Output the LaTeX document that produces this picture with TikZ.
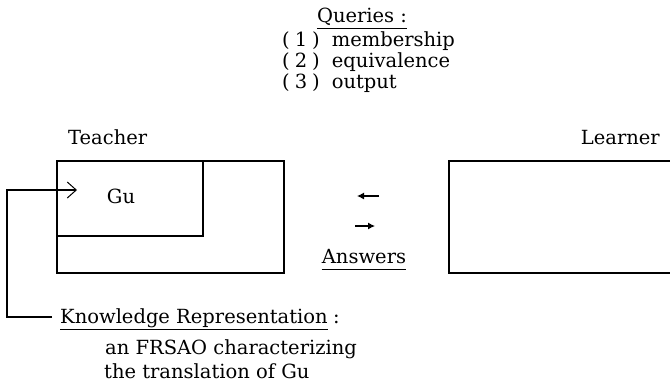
\documentclass[tikz,border=0pt]{standalone}
\usepackage{fontspec}
\setmainfont{DejaVu Serif}
\usetikzlibrary{arrows.meta}
\begin{document}
\begin{tikzpicture}[x=1pt,y=-1pt,
  txt/.style={inner sep=0pt, anchor=base west, font=\fontsize{19.5}{21}\selectfont},
  frame/.style={draw, line width=1.1pt},
  conn/.style={line width=1.1pt},
  uline/.style={line width=0.9pt},
  small/.style={line width=1.1pt, -{Latex[length=7pt,width=7pt]}}]
\useasboundingbox (0,0) rectangle (670,386);

% Queries
\node[txt, anchor=base] (q) at (362,22) {Queries :};
\draw[uline] ([yshift=-6pt]q.base west) -- ([yshift=-6pt]q.base east);
\node[txt] (q1) at (282,46) {(\hspace{5pt}1\hspace{5pt})\hspace{12pt}membership};
\node[txt] (q2) at (282,67) {(\hspace{5pt}2\hspace{5pt})\hspace{12pt}equivalence};
\node[txt] (q3) at (282,88) {(\hspace{5pt}3\hspace{5pt})\hspace{12pt}output};

% labels
\node[txt] (teacher) at (68,144) {Teacher};
\node[txt, anchor=base east] (learner) at (660,144) {Learner};

% boxes
\path (57,161) coordinate (oNW) (284,273) coordinate (oSE);
\draw[frame] (oNW) rectangle (oSE);
\draw[frame] (57,236) -- (203,236) -- (203,161);
\draw[frame] (670,161) -- (449,161) -- (449,273) -- (670,273);

\node[txt, anchor=base] (gu) at (121,203) {Gu};

% middle arrows
\coordinate (la1) at (379,196); \coordinate (la2) at (357,196);
\coordinate (ra1) at (355,226); \coordinate (ra2) at (375,226);
\draw[small] (la1) -- (la2);
\draw[small] (ra1) -- (ra2);

\node[txt, anchor=base] (ans) at (364,263) {Answers};
\draw[uline] ([yshift=-6pt]ans.base west) -- ([yshift=-6pt]ans.base east);

% knowledge representation
\node[txt] (kr) at (60,323) {Knowledge Representation};
\draw[uline] ([yshift=-6pt]kr.base west) -- ([yshift=-6pt]kr.base east);
\node[txt, anchor=base west] (krc) at ([xshift=5pt]kr.base east) {:};
\node[txt] (kr1) at (105,354) {an FRSAO characterizing};
\node[txt] (kr2) at (104,378) {the translation of Gu};

\coordinate (krl) at (52,317);
\coordinate (lft) at (7,190);
\coordinate (tip) at (77,190);
\draw[conn, -{Straight Barb[length=9pt,width=16pt,line width=1pt]}] (krl) -| (lft) -- (tip);
\end{tikzpicture}
\end{document}
